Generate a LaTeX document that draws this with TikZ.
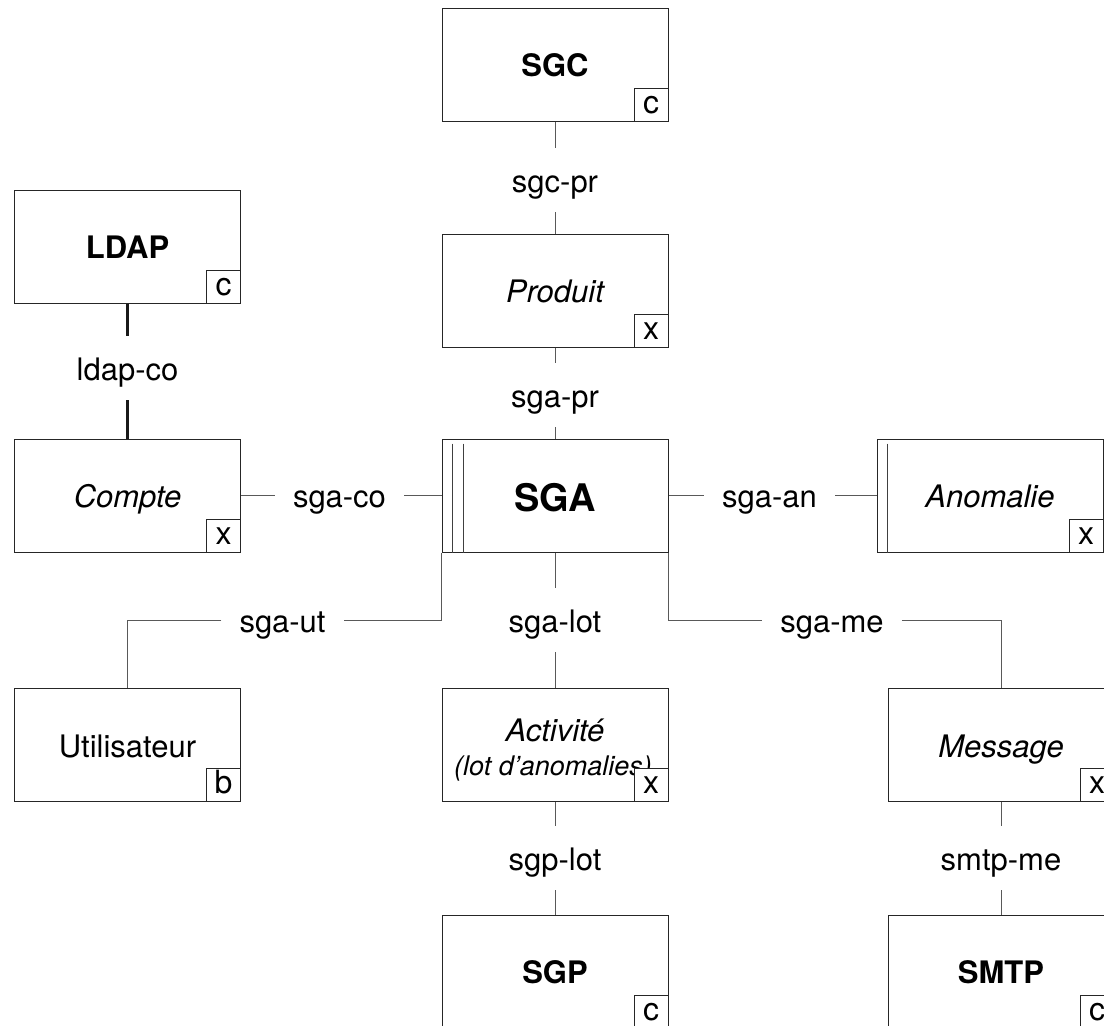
\documentclass[tikz,border=0pt]{standalone}
\usepackage{fontspec}
\setmainfont{TeX Gyre Heros}
\newcommand{\fsz}[1]{\fontsize{#1}{#1}\selectfont}
\begin{document}
\begin{tikzpicture}[x=1pt,y=-1pt,
  box/.style={draw=black!85, line width=1pt, fill=white, minimum width=226pt,
    minimum height=113pt, inner sep=0pt, text height=24pt, text depth=0pt,
    font=\fsz{31}},
  corner/.style={draw=black!85, line width=1pt, fill=white, anchor=south east,
    minimum width=34pt, minimum height=33pt, inner sep=0pt,
    text height=17pt, text depth=0pt, font=\fsz{32}},
  lbl/.style={font=\fsz{31}, text height=24pt, text depth=0pt,
    inner xsep=18pt, inner ysep=20pt},
  conn/.style={draw=black!65, line width=1pt},
  thickconn/.style={draw=black!90, line width=2.6pt},
  bar/.style={draw=black!75, line width=1pt}]
\useasboundingbox (0,0) rectangle (1104,1026);

% entity boxes
\node[box, font=\fsz{31}\bfseries] (SGC) at (555,64.5) {SGC};
\node[box, font=\fsz{31}\bfseries] (LDAP) at (127.5,246.5) {LDAP};
\node[box, font=\fsz{31}\itshape] (Produit) at (555,290.5) {Produit};
\node[box, font=\fsz{31}\itshape] (Compte) at (127.5,495.5) {Compte};
\node[box, font=\fsz{38}\bfseries, text height=32pt] (SGA) at (555,495.5) {SGA};
\node[box, font=\fsz{31}\itshape] (Anomalie) at (990,495.5) {Anomalie};
\node[box] (Utilisateur) at (127.5,745) {Utilisateur};
\node[box] (Activite) at (555,745) {};
\node[anchor=base, inner sep=0pt, font=\fsz{31}\itshape] (actA) at (555,741) {Activité};
\node[anchor=base, inner sep=0pt, font=\fsz{27}\itshape] (actB) at (553,775) {(lot d{\char"0027}anomalies)};
\node[box, font=\fsz{31}\itshape] (Message) at (1001,745) {Message};
\node[box, font=\fsz{31}\bfseries] (SGP) at (555,971.5) {SGP};
\node[box, font=\fsz{31}\bfseries] (SMTP) at (1001,971.5) {SMTP};

% vertical bars inside SGA and Anomalie
\draw[bar] ([xshift=11pt,yshift=-5pt]SGA.north west) -- ([xshift=11pt]SGA.south west);
\draw[bar] ([xshift=22pt,yshift=-5pt]SGA.north west) -- ([xshift=22pt]SGA.south west);
\draw[bar] ([xshift=11pt,yshift=-5pt]Anomalie.north west) -- ([xshift=11pt]Anomalie.south west);

% corner marks
\node[corner] (kSGC) at (SGC.south east) {c};
\node[corner] (kLDAP) at (LDAP.south east) {c};
\node[corner] (kProduit) at (Produit.south east) {x};
\node[corner] (kCompte) at (Compte.south east) {x};
\node[corner] (kAnomalie) at (Anomalie.south east) {x};
\node[corner] (kUtilisateur) at (Utilisateur.south east) {b};
\node[corner] (kActivite) at (Activite.south east) {x};
\node[corner] (kMessage) at (Message.south east) {x};
\node[corner] (kSGP) at (SGP.south east) {c};
\node[corner] (kSMTP) at (SMTP.south east) {c};

% association labels
\node[lbl] (sgcpr) at (555,180) {sgc-pr};
\node[lbl] (sgapr) at (555,395) {sga-pr};
\node[lbl] (ldapco) at (127.5,368) {ldap-co};
\node[lbl] (sgaco) at (339.5,495.5) {sga-co};
\node[lbl] (sgaan) at (769.5,495.5) {sga-an};
\node[lbl] (sgaut) at (282.5,620) {sga-ut};
\node[lbl] (sgalot) at (555,620) {sga-lot};
\node[lbl] (sgame) at (832,620) {sga-me};
\node[lbl] (sgplot) at (555,858) {sgp-lot};
\node[lbl] (smtpme) at (1001,858) {smtp-me};

% connectors
\draw[conn] (SGC) -- (sgcpr) -- (Produit);
\draw[conn] (Produit) -- (sgapr) -- (SGA);
\draw[thickconn] (LDAP) -- (ldapco) -- (Compte);
\draw[conn] (Compte) -- (sgaco) -- (SGA);
\draw[conn] (SGA) -- (sgaan) -- (Anomalie);
\draw[conn] (SGA.south west) |- (sgaut);
\draw[conn] (sgaut) -| (Utilisateur);
\draw[conn] (SGA) -- (sgalot) -- (Activite);
\draw[conn] (SGA.south east) |- (sgame);
\draw[conn] (sgame) -| (Message);
\draw[conn] (Activite) -- (sgplot) -- (SGP);
\draw[conn] (Message) -- (smtpme) -- (SMTP);
\end{tikzpicture}
\end{document}
